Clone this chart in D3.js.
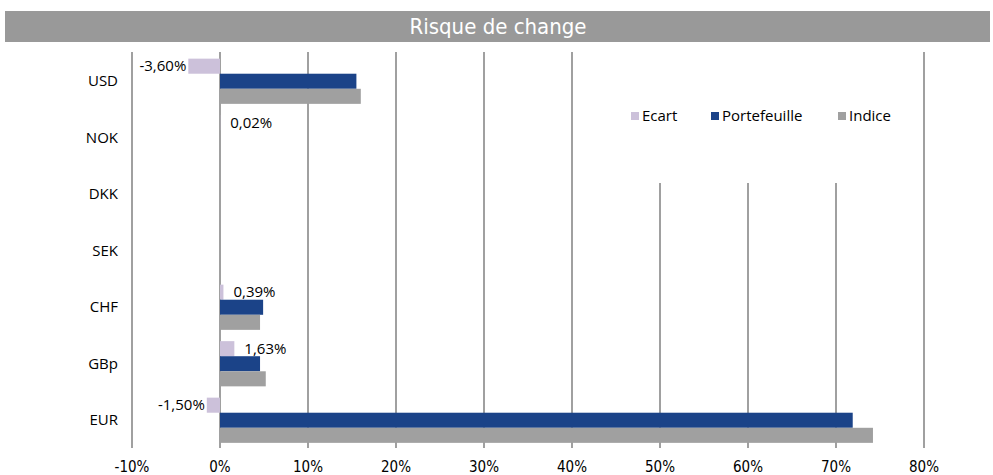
<!DOCTYPE html>
<html>
<head>
<meta charset="utf-8">
<script src="https://cdn.jsdelivr.net/npm/d3@7"></script>
<style>
  body { margin: 0; background: #fff; }
  svg { display: block; }
</style>
</head>
<body>
<div id="chart"></div>
<script>
// Data
const categories = ["USD", "NOK", "DKK", "SEK", "CHF", "GBp", "EUR"];
const ecart = [-3.60, 0.02, 0, 0, 0.39, 1.63, -1.50];
const portefeuille = [15.5, 0, 0, 0, 4.9, 4.55, 71.9];
const indice = [16.0, 0, 0, 0, 4.55, 5.2, 74.2];
const xTicks = [-10, 0, 10, 20, 30, 40, 50, 60, 70, 80];
const seriesNames = ["Ecart", "Portefeuille", "Indice"];
const colors = ["#ccc1da", "#1b4388", "#a0a0a0"];
// only Ecart gets labels, and only where shown in the picture
const showLabel = [true, true, false, false, true, true, true];

const width = 993, height = 475;
const svg = d3.select("#chart").append("svg")
    .attr("width", width)
    .attr("height", height);

const fontMain = "'Liberation Sans Narrow', 'DejaVu Sans Condensed', 'Open Sans', sans-serif";

// Title bar
svg.append("rect")
    .attr("x", 5).attr("y", 11)
    .attr("width", 985).attr("height", 31)
    .attr("fill", "#999999");
svg.append("text")
    .attr("x", 498).attr("y", 34)
    .attr("text-anchor", "middle")
    .attr("fill", "#fff")
    .style("font-family", fontMain)
    .style("font-size", "22px")
    .text("Risque de change");

// Scales
const x = d3.scaleLinear().domain([-10, 80]).range([132, 924]);
const y = d3.scaleBand().domain(categories).range([53, 448.5])
    .paddingInner(0.2).paddingOuter(0.1);
const ySub = d3.scaleBand().domain(seriesNames).range([0, y.bandwidth()]);
const gridTop = 52, gridBottom = 448;

// Gridlines
svg.append("g").selectAll("line")
    .data(xTicks)
    .join("line")
    .attr("x1", d => x(d)).attr("x2", d => x(d))
    .attr("y1", gridTop).attr("y2", gridBottom)
    .attr("stroke", "#a0a0a0")
    .attr("stroke-width", 2);

// Tick labels
svg.append("g").selectAll("text")
    .data(xTicks)
    .join("text")
    .attr("x", d => x(d))
    .attr("y", 472)
    .attr("text-anchor", "middle")
    .attr("fill", "#000")
    .style("font-family", fontMain)
    .style("font-size", "15px")
    .text(d => d + "%");

// Category labels
svg.append("g").selectAll("text")
    .data(categories)
    .join("text")
    .attr("x", 118)
    .attr("y", d => y(d) - y.paddingOuter() * y.step() + y.step() / 2 + 5)
    .attr("text-anchor", "end")
    .attr("fill", "#000")
    .style("font-family", "'Open Sans', sans-serif")
    .style("font-size", "15px")
    .text(d => d);

// Bars
const seriesValues = [ecart, portefeuille, indice];
seriesValues.forEach((vals, si) => {
    svg.append("g").selectAll("rect")
        .data(categories.map((c, i) => ({ c, v: vals[i] })))
        .join("rect")
        .attr("x", d => x(Math.min(0, d.v)))
        .attr("y", d => y(d.c) + ySub(seriesNames[si]))
        .attr("width", d => Math.abs(x(d.v) - x(0)))
        .attr("height", ySub.bandwidth())
        .attr("fill", colors[si]);
});

// Ecart labels
const fr = d3.formatLocale({ decimal: ",", thousands: " ", grouping: [3], currency: ["", "€"], minus: "-" });
const fmt = fr.format(".2f");
svg.append("g").selectAll("text")
    .data(categories.map((c, i) => ({ c, v: ecart[i], show: showLabel[i] })).filter(d => d.show))
    .join("text")
    .attr("x", d => d.v < 0 ? x(d.v) - 2 : x(d.v) + 10)
    .attr("y", d => y(d.c) + ySub("Ecart") + ySub.bandwidth() / 2 + 5)
    .attr("text-anchor", d => d.v < 0 ? "end" : "start")
    .attr("fill", "#000")
    .style("font-family", "'Open Sans', sans-serif")
    .style("font-size", "15px")
    .text(d => fmt(d.v) + "%");

// Legend (white box over gridlines)
svg.append("rect")
    .attr("x", 600).attr("y", gridTop - 1)
    .attr("width", 300).attr("height", 132)
    .attr("fill", "#fff");
const legendX = [631, 711, 838];
const legend = svg.append("g").selectAll("g")
    .data(seriesNames)
    .join("g")
    .attr("transform", (d, i) => `translate(${legendX[i]},116)`);
legend.append("rect")
    .attr("x", 0).attr("y", -4)
    .attr("width", 8).attr("height", 8)
    .attr("fill", (d, i) => colors[i]);
legend.append("text")
    .attr("x", 11).attr("y", 5)
    .attr("fill", "#000")
    .style("font-family", "'Open Sans', sans-serif")
    .style("font-size", "15px")
    .text(d => d);
</script>
</body>
</html>
